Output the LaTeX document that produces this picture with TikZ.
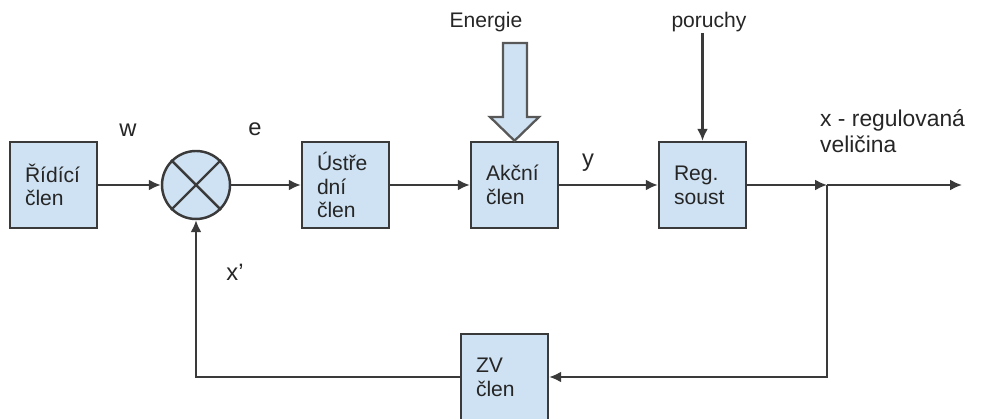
\documentclass[tikz,border=0pt]{standalone}
\usepackage{fontspec}
\setmainfont{Liberation Sans}
\usetikzlibrary{arrows.meta}
\definecolor{blokfill}{HTML}{CFE2F3}
\definecolor{blokline}{HTML}{3A3A3A}
\definecolor{textgray}{HTML}{262626}
\begin{document}
\begin{tikzpicture}[
    font=\fontsize{12}{13.5}\selectfont, text=textgray,
    blok/.style={draw=blokline, fill=blokfill, line width=1.4pt,
        minimum height=1.72cm, text width=1.14cm, inner xsep=0.3cm, align=left},
    sipka/.style={-{Latex[length=2.4mm,width=2.2mm]}, line width=1.2pt, draw=blokline},
    znacka/.style={font=\fontsize{13.5}{15}\selectfont}
]
    \useasboundingbox (0,0) rectangle (19.64,8.38);

    % bloky regulacni smycky
    \node[blok] (ridici) at (1.07,4.68) {Řídící\\člen};
    \node[draw=blokline, fill=blokfill, line width=1.4pt, circle, minimum size=1.36cm] (sum) at (3.92,4.68) {};
    \draw[blokline, line width=1.4pt] (sum.north east) -- (sum.south west);
    \draw[blokline, line width=1.4pt] (sum.north west) -- (sum.south east);
    \node[blok] (ustredni) at (6.91,4.68) {Ústře\\dní\\člen};
    \node[blok] (akcni) at (10.29,4.68) {Akční\\člen};
    \node[blok] (reg) at (14.05,4.68) {Reg.\\soust};
    \node[blok] (zv) at (10.09,0.84) {ZV\\člen};

    \coordinate (junc) at (16.54,4.68);
    \coordinate (out) at (19.24,4.68);
    \coordinate (por) at (14.05,7.72);

    % prime vetve
    \draw[sipka] (ridici) -- (sum);
    \draw[sipka] (sum) -- (ustredni);
    \draw[sipka] (ustredni) -- (akcni);
    \draw[sipka] (akcni) -- (reg);
    \draw[sipka] (reg) -- (junc);
    \draw[sipka] (junc) -- (out);
    \draw[sipka] (por) -- (reg.north);

    % zpetna vazba
    \draw[sipka] (junc) |- (zv.east);
    \draw[sipka] (zv.west) -| (sum.south);

    % prisun energie
    \draw[draw=blokline!85, fill=blokfill, line width=1.3pt]
        (10.06,7.52) -- (10.54,7.52) -- (10.54,6.04) -- (10.78,6.04)
        -- (akcni.north) -- (9.80,6.04) -- (10.06,6.04) -- cycle;

    % popisky
    \node (energie) at (9.72,7.94) {Energie};
    \node (poruchy) at (14.18,7.94) {poruchy};
    \node[znacka] (w) at (2.56,5.78) {w};
    \node[znacka] (e) at (5.10,5.80) {e};
    \node[znacka] (y) at (11.76,5.12) {y};
    \node[znacka] (xc) at (4.70,2.94) {x'};
    \node[anchor=west, align=left, font=\fontsize{13}{14.5}\selectfont] (xreg) at (16.28,5.76) {x - regulovaná\\veličina};
\end{tikzpicture}
\end{document}
